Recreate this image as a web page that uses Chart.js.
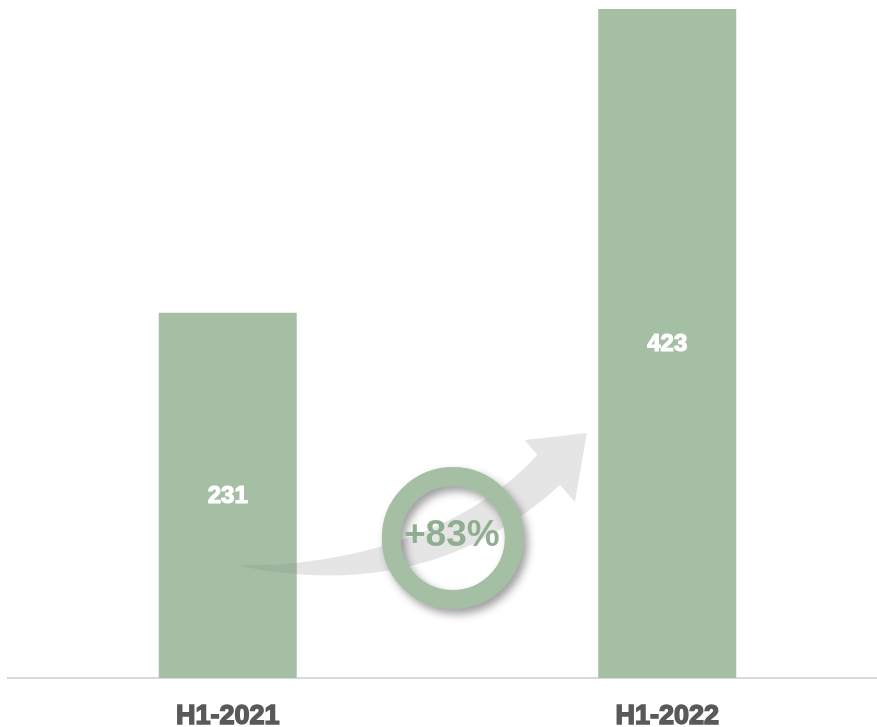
<!DOCTYPE html>
<html>
<head>
<meta charset="utf-8">
<script src="https://cdn.jsdelivr.net/npm/chart.js@4"></script>
<style>
  html, body { margin: 0; padding: 0; background: #fff; overflow: hidden; }
  #wrap { width: 887px; height: 727px; position: relative; }
</style>
</head>
<body>
<div id="wrap"><canvas id="chart" width="887" height="727"></canvas></div>
<script>
'use strict';

/* ── Data ─────────────────────────────────────────────────────────── */
const periods = ['H1-2021', 'H1-2022'];
const volumes = [231, 423];
const growthLabel = '+83%';

/* ── Design tokens ────────────────────────────────────────────────── */
const C = {
  bar:      '#a5bfa5',
  axis:     '#d9d9d9',
  tick:     '#595959',
  arrow:    'rgba(135,135,135,0.22)',
  ring:     '#a5bfa5',
  growth:   '#8fae8f',
};

/* ── Value labels centred in each bar ────────────────────────────── */
const barValues = {
  id: 'barValues',
  afterDatasetsDraw(chart) {
    const { ctx } = chart;
    const meta = chart.getDatasetMeta(0);
    ctx.save();
    ctx.fillStyle = '#fff';
    ctx.strokeStyle = '#fff';
    ctx.lineWidth = 1.2;
    ctx.lineJoin = 'round';
    ctx.font = 'bold 24px "Liberation Sans", Arial, sans-serif';
    ctx.textAlign = 'center';
    ctx.textBaseline = 'middle';
    meta.data.forEach((bar, i) => {
      const mid = (bar.y + bar.base) / 2;
      const txt = String(chart.data.datasets[0].data[i]);
      ctx.strokeText(txt, bar.x, mid + 1);
      ctx.fillText(txt, bar.x, mid + 1);
    });
    ctx.restore();
  },
};

/* ── Growth arrow + ring badge between the two bars ──────────────── */
const growthBadge = {
  id: 'growthBadge',
  afterDatasetsDraw(chart) {
    const { ctx, scales: { x, y } } = chart;
    // points given as (category index, value) so they follow the scales
    const p = (ix, v) => [x.getPixelForValue(ix), y.getPixelForValue(v)];

    const tail   = p(0.016, 71.4);
    const lc1    = p(0.233, 58.8);
    const lc2    = p(0.506, 58.8);
    const lEnd   = p(0.756, 122.0);
    const wingLo = p(0.790, 111.3);
    const tip    = p(0.817, 154.9);
    const wingHi = p(0.676, 150.5);
    const notch  = p(0.704, 141.0);
    const uc1    = p(0.528, 87.3);
    const uc2    = p(0.233, 69.6);

    ctx.save();
    ctx.fillStyle = C.arrow;
    ctx.beginPath();
    ctx.moveTo(...tail);
    ctx.bezierCurveTo(...lc1, ...lc2, ...lEnd);
    ctx.lineTo(...wingLo);
    ctx.lineTo(...tip);
    ctx.lineTo(...wingHi);
    ctx.lineTo(...notch);
    ctx.bezierCurveTo(...uc1, ...uc2, ...tail);
    ctx.closePath();
    ctx.fill();
    ctx.restore();

    // ring with a soft drop shadow
    const [cx, cy] = p(0.512, 88.5);
    ctx.save();
    ctx.shadowColor = 'rgba(0,0,0,0.38)';
    ctx.shadowBlur = 9;
    ctx.shadowOffsetX = 4;
    ctx.shadowOffsetY = 5;
    ctx.strokeStyle = C.ring;
    ctx.lineWidth = 19;
    ctx.beginPath();
    ctx.arc(cx, cy, 61.5, 0, Math.PI * 2);
    ctx.stroke();
    ctx.restore();

    ctx.save();
    ctx.fillStyle = C.growth;
    ctx.font = 'bold 37px "Liberation Sans", Arial, sans-serif';
    ctx.textAlign = 'center';
    ctx.textBaseline = 'middle';
    ctx.fillText(growthLabel, cx - 1, cy - 2);
    ctx.restore();
  },
};

new Chart(document.getElementById('chart'), {
  type: 'bar',
  data: {
    labels: periods,
    datasets: [{
      data: volumes,
      backgroundColor: C.bar,
      borderWidth: 0,
      categoryPercentage: 1,
      barPercentage: 0.314,
    }],
  },
  options: {
    responsive: false,
    animation: false,
    layout: { padding: { top: 9, left: 8, right: 0, bottom: 0 } },
    plugins: { legend: { display: false }, tooltip: { enabled: false } },
    scales: {
      x: {
        grid: { display: false },
        border: { display: true, color: C.axis, width: 2 },
        ticks: {
          color: C.tick,
          padding: 14,
          maxRotation: 0,
          font: { family: '"Liberation Sans", Arial, sans-serif', size: 27, weight: 'bold' },
          textStrokeColor: C.tick,
          textStrokeWidth: 1.5,
        },
        afterFit(scale) { scale.height = 49; },
      },
      y: {
        display: false,
        min: 0,
        max: 423,
      },
    },
  },
  plugins: [barValues, growthBadge],
});
</script>
</body>
</html>
